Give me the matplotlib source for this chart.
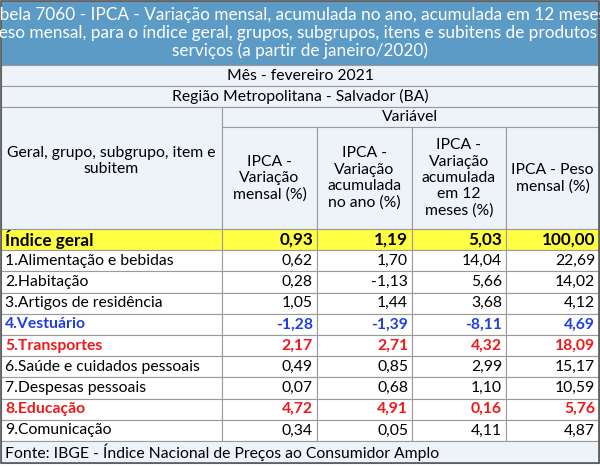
import matplotlib
matplotlib.use('Agg')
import matplotlib.pyplot as plt

title = ('Tabela 7060 - IPCA - Variação mensal, acumulada no ano, acumulada em 12 meses e\n'
         'peso mensal, para o índice geral, grupos, subgrupos, itens e subitens de produtos e\n'
         'serviços (a partir de janeiro/2020)')
mes = 'Mês - fevereiro 2021'
regiao = 'Região Metropolitana - Salvador (BA)'
col_headers = ['IPCA -\nVariação\nmensal (%)', 'IPCA -\nVariação\nacumulada\nno ano (%)',
               'IPCA -\nVariação\nacumulada\nem 12\nmeses (%)', 'IPCA - Peso\nmensal (%)']
row_labels = ['Índice geral', '1.Alimentação e bebidas', '2.Habitação', '3.Artigos de residência',
              '4.Vestuário', '5.Transportes', '6.Saúde e cuidados pessoais', '7.Despesas pessoais',
              '8.Educação', '9.Comunicação']
values = [
    ['0,93', '1,19', '5,03', '100,00'],
    ['0,62', '1,70', '14,04', '22,69'],
    ['0,28', '-1,13', '5,66', '14,02'],
    ['1,05', '1,44', '3,68', '4,12'],
    ['-1,28', '-1,39', '-8,11', '4,69'],
    ['2,17', '2,71', '4,32', '18,09'],
    ['0,49', '0,85', '2,99', '15,17'],
    ['0,07', '0,68', '1,10', '10,59'],
    ['4,72', '4,91', '0,16', '5,76'],
    ['0,34', '0,05', '4,11', '4,87'],
]
row_style = ['geral', '', '', '', 'blue', 'red', '', '', 'red', '']
fonte = 'Fonte: IBGE - Índice Nacional de Preços ao Consumidor Amplo'

plt.rcParams['font.family'] = ['Lato', 'DejaVu Sans']
W, H = 600, 467
fig = plt.figure(figsize=(W / 100, H / 100), dpi=100)
ax = fig.add_axes([0, 0, 1, 1])
ax.set_xlim(0, W)
ax.set_ylim(H, 0)
ax.axis('off')

grid = '#9a9a9a'
hdr_bg = '#eef3fa'
xs = [1, 222, 317, 412, 506, 599]
fs = 11.3


def cell(x0, x1, y0, y1, fc, lw=0.8):
    ax.add_patch(plt.Rectangle((x0, y0), x1 - x0, y1 - y0, facecolor=fc,
                               edgecolor=grid, linewidth=lw))


# Title
cell(1, 599, 1, 65, '#5b9bc6')
ax.text(300, 33, title, ha='center', va='center', color='white', fontsize=12.4,
        linespacing=1.1)
cell(1, 599, 65, 86, hdr_bg)
ax.text(300, 75.5, mes, ha='center', va='center', fontsize=fs)
cell(1, 599, 86, 107, hdr_bg)
ax.text(300, 96.5, regiao, ha='center', va='center', fontsize=fs)
cell(1, 222, 107, 229, hdr_bg)
ax.text(111, 161, 'Geral, grupo, subgrupo, item e\nsubitem', ha='center', va='center',
        fontsize=fs, linespacing=1.2)
cell(222, 599, 107, 127, hdr_bg)
ax.text(410, 117, 'Variável', ha='center', va='center', fontsize=fs)
for j, h in enumerate(col_headers):
    cell(xs[j + 1], xs[j + 2], 127, 229, hdr_bg)
    ax.text((xs[j + 1] + xs[j + 2]) / 2, 178, h, ha='center', va='center',
            fontsize=fs, linespacing=1.2)

y0, rh = 229, 21.2
for i, (lab, vals) in enumerate(zip(row_labels, values)):
    ya, yb = y0 + i * rh, y0 + (i + 1) * rh
    st = row_style[i]
    fc = '#ffff44' if st == 'geral' else 'white'
    color = {'blue': '#1f3fe0', 'red': '#f01818'}.get(st, 'black')
    weight = 'bold' if st else 'normal'
    size = fs + 1 if st == 'geral' else fs
    for j in range(5):
        cell(xs[j], xs[j + 1], ya, yb, fc)
    ym = (ya + yb) / 2
    ax.text(5, ym, lab, ha='left', va='center', fontsize=size, color=color, fontweight=weight)
    for j, v in enumerate(vals):
        ax.text(xs[j + 2] - 4, ym, v, ha='right', va='center', fontsize=size,
                color=color, fontweight=weight)

yf = y0 + len(row_labels) * rh
cell(1, 599, yf, 463, hdr_bg)
ax.text(5, (yf + 463) / 2, fonte, ha='left', va='center', fontsize=fs)
ax.add_patch(plt.Rectangle((1, 1), 598, 462, facecolor='none', edgecolor='#555555', linewidth=1.2))

fig.savefig('out.png', dpi=100, facecolor='white')
